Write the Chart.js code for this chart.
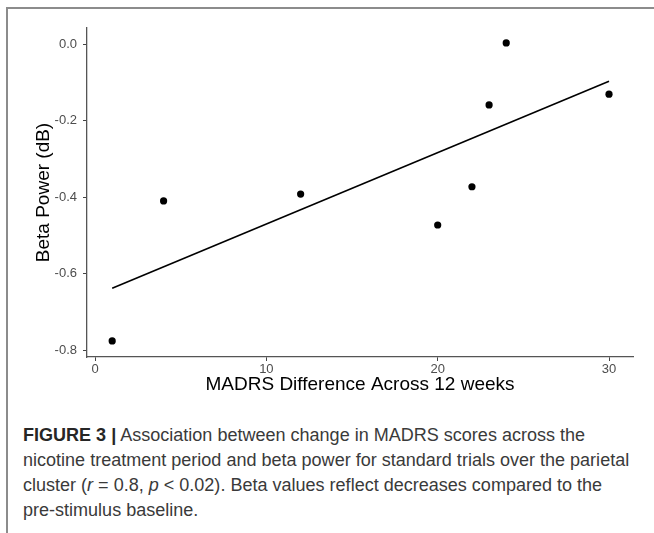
<!DOCTYPE html>
<html>
<head>
<meta charset="utf-8">
<title>Figure 3</title>
<script src="https://cdn.jsdelivr.net/npm/chart.js@4.4.0/dist/chart.umd.min.js"></script>
<style>
    html, body { margin: 0; padding: 0; background: #fff; overflow: hidden; }
    body { width: 654px; height: 533px; position: relative; }
    #frame {
        position: absolute; left: 6px; top: 7px; width: 700px; height: 600px;
        border-top: 2px solid #8c8c8c; border-left: 2px solid #8c8c8c;
    }
    #chartBox { position: absolute; left: 0; top: 0; width: 654px; height: 410px; }
    #caption {
        position: absolute; left: 23px; top: 423px; width: 640px;
        font-family: "Liberation Sans", Arial, sans-serif; font-size: 17.5px;
        line-height: 25px; color: #3a3a3a;
    }
    #caption div { white-space: nowrap; width: max-content; transform-origin: 0 0; }
    #caption b { color: #262626; }
</style>
</head>
<body>
<div id="frame"></div>
<div id="chartBox"><canvas id="myChart" width="654" height="410"></canvas></div>
<div id="caption">
    <div><b>FIGURE 3 |</b> Association between change in MADRS scores across the</div>
    <div id="widest">nicotine treatment period and beta power for standard trials over the parietal</div>
    <div>cluster (<i>r</i> = 0.8, <i>p</i> &lt; 0.02). Beta values reflect decreases compared to the</div>
    <div>pre-stimulus baseline.</div>
</div>
<script>
// 数据：MADRS 差值与 beta 功率
var madrsDiff = [1, 4, 12, 20, 22, 23, 24, 30];
var betaPower = [-0.776, -0.41, -0.392, -0.473, -0.373, -0.159, 0.003, -0.131];

// 回归线端点
var fitX = [1, 30];
var fitY = [-0.638, -0.097];

// 刻度
var xTicks = [0, 10, 20, 30];
var yTicks = [-0.8, -0.6, -0.4, -0.2, 0.0];

(function () {
    "use strict";

    function toPoints(xs, ys) {
        return xs.map(function (x, i) { return { x: x, y: ys[i] }; });
    }

    var tickFont = { family: "'Liberation Sans', Arial, sans-serif", size: 13 };
    var titleFont = { family: "'Liberation Sans', Arial, sans-serif", size: 19 };

    var ctx = document.getElementById('myChart').getContext('2d');
    new Chart(ctx, {
        type: 'scatter',
        data: {
            datasets: [
                {
                    label: 'fit',
                    data: toPoints(fitX, fitY),
                    showLine: true,
                    borderColor: '#000',
                    borderWidth: 1.6,
                    pointRadius: 0,
                    fill: false
                },
                {
                    label: 'subjects',
                    data: toPoints(madrsDiff, betaPower),
                    backgroundColor: '#000',
                    borderColor: '#000',
                    pointRadius: 3.6,
                    pointBorderWidth: 0
                }
            ]
        },
        options: {
            responsive: false,
            animation: false,
            layout: { padding: { top: 28, right: 21, left: 0, bottom: 0 } },
            plugins: { legend: { display: false }, tooltip: { enabled: false } },
            scales: {
                x: {
                    type: 'linear',
                    min: -0.47,
                    max: 31.4,
                    afterBuildTicks: function (axis) {
                        axis.ticks = xTicks.map(function (v) { return { value: v }; });
                    },
                    afterFit: function (scale) { scale.height = 53; },
                    ticks: {
                        color: '#4d4d4d', font: tickFont, padding: 1, maxRotation: 0,
                        callback: function (v) { return String(v); }
                    },
                    grid: { drawOnChartArea: false, drawTicks: true, tickLength: 4, color: '#444' },
                    border: { display: true, color: '#555', width: 1.3 },
                    title: {
                        display: true,
                        text: 'MADRS Difference Across 12 weeks',
                        color: '#000',
                        font: titleFont,
                        padding: { top: 0, bottom: 14 }
                    }
                },
                y: {
                    type: 'linear',
                    min: -0.818,
                    max: 0.042,
                    afterBuildTicks: function (axis) {
                        axis.ticks = yTicks.map(function (v) { return { value: v }; });
                    },
                    afterFit: function (scale) { scale.width = 87; },
                    ticks: {
                        color: '#4d4d4d', font: tickFont, padding: 6,
                        callback: function (v) { return Number(v).toFixed(1); }
                    },
                    grid: { drawOnChartArea: false, drawTicks: true, tickLength: 4, color: '#444' },
                    border: { display: true, color: '#555', width: 1.3 },
                    title: {
                        display: true,
                        text: 'Beta Power (dB)',
                        color: '#000',
                        font: titleFont,
                        padding: { top: 32, bottom: 0 }
                    }
                }
            }
        }
    });

    // 说明文字：按最宽一行在原图中的宽度（约 606px）拉伸
    var widest = document.getElementById('widest');
    var scale = 606 / widest.getBoundingClientRect().width;
    var lines = document.querySelectorAll('#caption div');
    for (var i = 0; i < lines.length; i++) {
        lines[i].style.transform = 'scaleX(' + scale.toFixed(3) + ')';
    }
}());
</script>
</body>
</html>
